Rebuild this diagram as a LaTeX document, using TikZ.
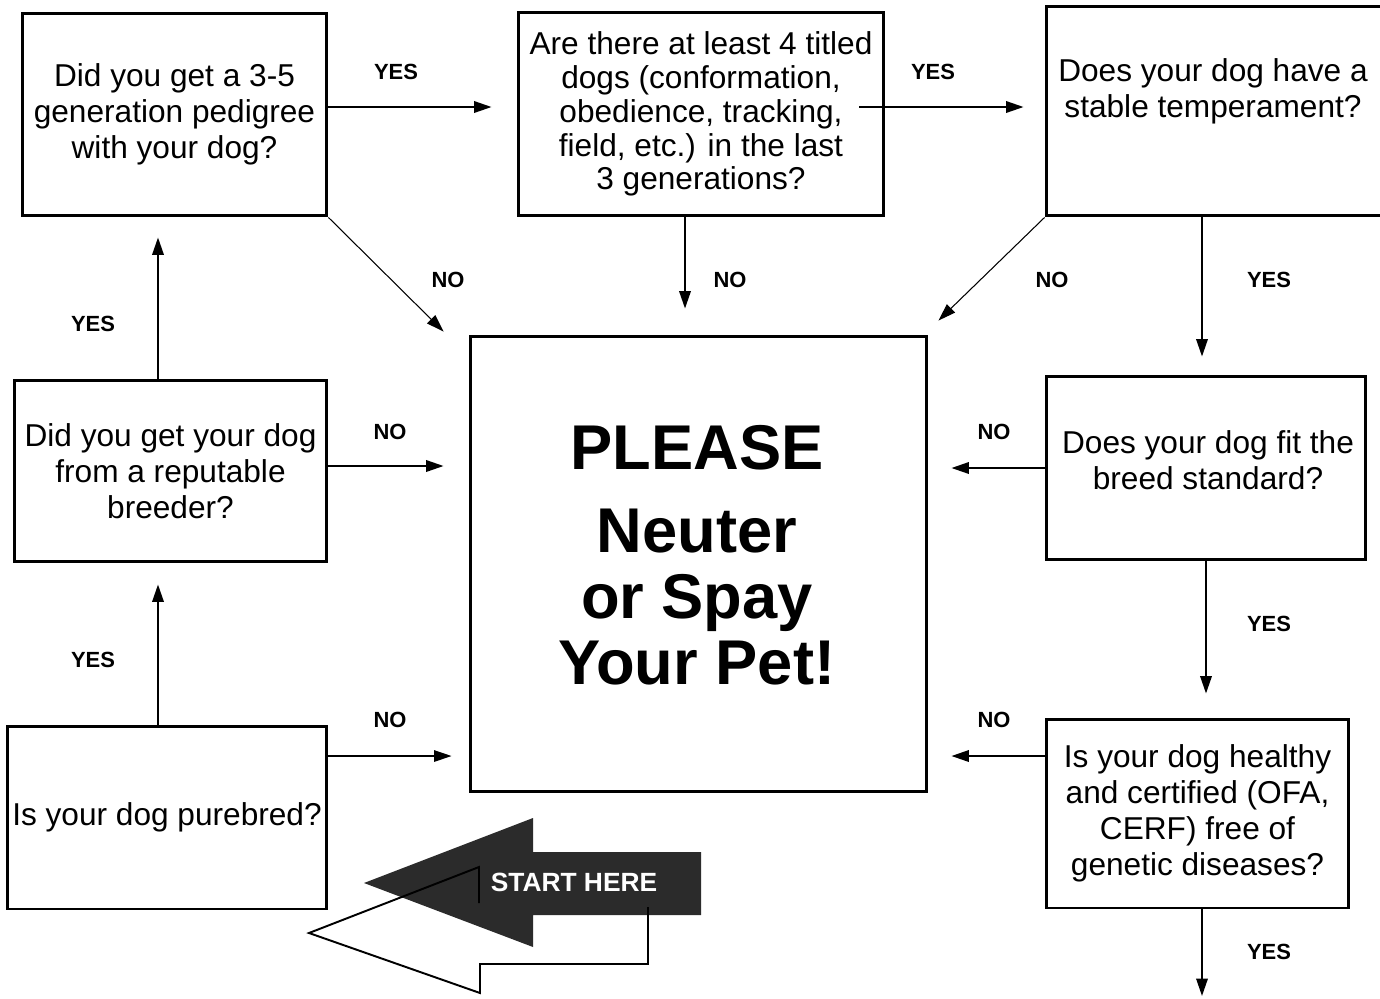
\documentclass[tikz,border=0pt]{standalone}
\usepackage{fontspec}
\setmainfont{Liberation Sans}
\usetikzlibrary{arrows.meta}
\definecolor{startgray}{HTML}{2B2B2B}

\begin{document}
\begin{tikzpicture}[x=0.02cm, y=-0.02cm, >={Triangle[length=0.35cm, width=0.23cm]}]
		\tikzstyle{box} = [rectangle, draw, line width=1.7pt, inner sep=0pt]
		\tikzstyle{question} = [align=center, font=\fontsize{18}{20.5}\selectfont]
		\tikzstyle{answer} = [font=\bfseries\fontsize{12.5}{15}\selectfont]
		\tikzstyle{flow} = [->, line width=1.1pt]
		\tikzstyle{hint} = [->, line width=0.6pt]

		\useasboundingbox (0,0) rectangle (1380,998);
		\clip (0,0) rectangle (1380,998);

		% question boxes
		\node[box, question, minimum width=6.1cm, minimum height=4.06cm] (pedigree) at (174.5,114.5) {Did you get a 3-5\\generation pedigree\\with your dog?};
		\node[box, question, font=\fontsize{18}{19.3}\selectfont, minimum width=7.32cm, minimum height=4.08cm] (titled) at (701,114) {Are there at least 4 titled\\dogs (conformation,\\obedience, tracking,\\field, etc.) in the last\\3 generations?};
		\node[box, minimum width=6.88cm, minimum height=4.2cm] (temperament) at (1218,111) {};
		\node[question] (temperament-text) at (1213,91) {Does your dog have a\\stable temperament?};
		\node[box, question, minimum width=6.26cm, minimum height=3.64cm] (breeder) at (170.5,471) {Did you get your dog\\from a reputable\\breeder?};
		\node[box, question, minimum width=6.4cm, minimum height=3.66cm] (purebred) at (167,817.5) {Is your dog purebred?};
		\node[box, minimum width=6.4cm, minimum height=3.68cm] (standard) at (1206,468) {};
		\node[question] (standard-text) at (1208,460) {Does your dog fit the\\breed standard?};
		\node[box, question, minimum width=6.06cm, minimum height=3.78cm] (healthy) at (1197.5,813.5) {Is your dog healthy\\and certified (OFA,\\CERF) free of\\genetic diseases?};

		% final box
		\node[box, minimum width=9.14cm, minimum height=9.12cm] (spay) at (698.5,564) {};
		\node[align=center, font=\bfseries\fontsize{36}{37.5}\selectfont] (spay-text) at (697,555) {PLEASE\\[10pt]Neuter\\or Spay\\Your Pet!};

		% answers
		\foreach \txt/\x/\y [count=\i] in {YES/396/72, YES/933/72, NO/448/280, NO/730/280, NO/1052/280, YES/1269/280, YES/93/324, NO/390/432, NO/994/432, YES/1269/624, YES/93/660, NO/390/720, NO/994/720, YES/1269/952}
			\node[answer] (answer-\i) at (\x,\y) {\txt};

		% top row
		\draw[flow, shorten >=0.5cm] ([yshift=0.15cm]pedigree.east) -- ([yshift=0.15cm]pedigree.east -| titled.west);
		\draw[flow, shorten >=0.42cm] ([xshift=-0.52cm, yshift=0.14cm]titled.east) -- ([yshift=0.14cm]titled.east -| temperament.west);

		% into the final box
		\draw[hint] (pedigree.south east) -- ([xshift=-0.5cm, yshift=0.06cm]spay.north west);
		\draw[flow, shorten >=0.52cm] ([xshift=-0.32cm]titled.south) -- ([xshift=-0.32cm]titled.south |- spay.north);
		\draw[hint] (temperament.south west) -- ([xshift=0.2cm, yshift=0.28cm]spay.north east);
		\draw[flow, shorten >=0.46cm] (standard.west) -- (standard.west -| spay.east);
		\draw[flow, shorten >=0.46cm] ([yshift=1.15cm]healthy.west) -- ([yshift=1.15cm]healthy.west -| spay.east);
		\draw[flow, shorten >=0.5cm] ([yshift=0.1cm]breeder.east) -- ([yshift=0.1cm]breeder.east -| spay.west);
		\draw[->, line width=0.75pt, shorten >=0.34cm] ([yshift=1.23cm]purebred.east) -- ([yshift=1.23cm]purebred.east -| spay.west);

		% right column
		\draw[flow, shorten >=0.36cm] ([xshift=-0.08cm]temperament.south -| standard.north) -- ([xshift=-0.08cm]standard.north);
		\draw[flow, shorten >=0.48cm] (standard.south) -- (standard.south |- healthy.north);
		\coordinate (finish) at (1202,996);
		\draw[flow] (healthy.south -| finish) -- (finish);

		% left column
		\draw[flow, shorten >=0.42cm] ([xshift=-0.18cm]purebred.north) -- ([xshift=-0.18cm]purebred.north |- breeder.south);
		\draw[flow, shorten >=0.4cm] ([xshift=-0.25cm]breeder.north) -- ([xshift=-0.25cm]breeder.north |- pedigree.south);

		% start marker
		\fill[startgray] (364,883) -- (533,818) -- (533,852) -- (701,852) -- (701,915) -- (533,915) -- (533,947) -- cycle;
		\draw[line width=1.1pt] (648,907) -- (648,964) -- (480,964) -- (480,993) -- (309,933) -- (479,867) -- (479,903);
		\node[white, font=\bfseries\fontsize{15}{18}\selectfont] (start) at (574,882) {START HERE};
	\end{tikzpicture}
\end{document}
